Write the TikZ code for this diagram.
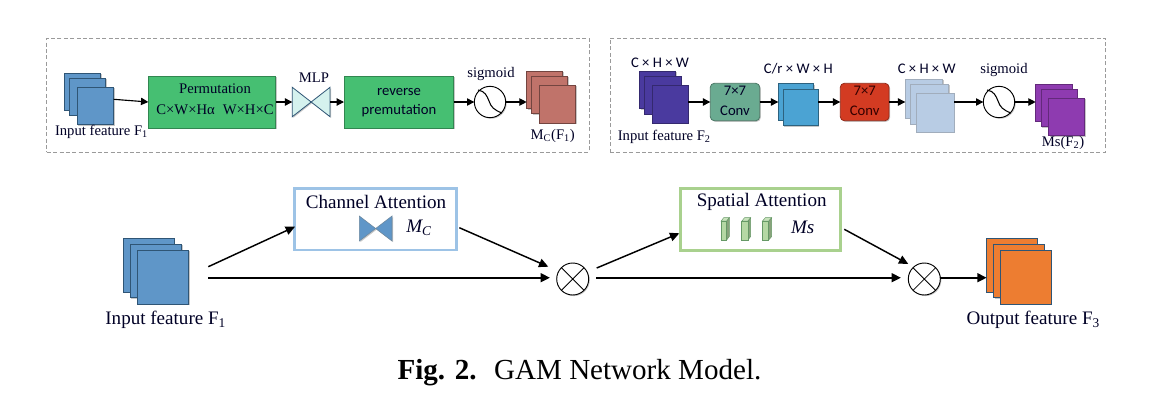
\documentclass[tikz,border=0pt]{standalone}
\usepackage{fontspec}
\setmainfont{Liberation Serif}
\newfontfamily\calfont{Carlito}
\usetikzlibrary{shadows,arrows.meta}
\definecolor{cOut}{HTML}{2F5575}
\definecolor{cBlue}{HTML}{5F96C8}
\definecolor{cGreen}{HTML}{46BF72}
\definecolor{cMint}{HTML}{D5F2EE}
\definecolor{cTeal}{HTML}{6AAB91}
\definecolor{cRed}{HTML}{D33B22}
\definecolor{cIndigo}{HTML}{4A3A9F}
\definecolor{cCyan}{HTML}{4BA3D3}
\definecolor{cPale}{HTML}{B8CCE4}
\definecolor{cViolet}{HTML}{8E3BB0}
\definecolor{cBrick}{HTML}{C0736A}
\definecolor{cOrange}{HTML}{ED7D31}
\definecolor{cDash}{HTML}{9A9A9A}
\definecolor{cFrameB}{HTML}{9DC3E6}
\definecolor{cFrameG}{HTML}{A9D18E}
\definecolor{cCube}{HTML}{B5D8A4}
\newcommand{\bx}[6]{%
  \pgfmathsetmacro\bxcx{(#3+#5)/2}%
  \pgfmathsetmacro\bxcy{(#4+#6)/2}%
  \pgfmathsetmacro\bxw{(#5-#3)*0.75}%
  \pgfmathsetmacro\bxh{(#6-#4)*0.75}%
  \node[boxbase,#1,minimum width=\bxw pt,minimum height=\bxh pt] (#2) at (\bxcx,\bxcy) {};}
\newcommand{\sigcurve}[1]{%
  \draw[line width=.8pt,black,shift={(#1)}] (-12,-12) .. controls (-5,-11) and (-3,-6) .. (-1,-1) .. controls (1,5) and (4,8) .. (12,11);}
\newcommand{\cube}[5]{% name x1 x2 y1 y2
  \pgfmathsetmacro\cubef{#2+0.68*(#3-#2)}%
  \fill[cCube!75!white,draw=gray!80!green,line width=.35pt] (#2,#4+3.5) -- (\cubef,#4+3.5) -- (#3,#4) -- (#2+0.32*#3-0.32*#2,#4) -- cycle;
  \fill[cCube!75!black,draw=gray!80!green,line width=.35pt] (\cubef,#4+3.5) -- (#3,#4) -- (#3,#5-3.5) -- (\cubef,#5) -- cycle;
  \node[boxbase,draw=gray!80!green,line width=.35pt,fill=cCube,minimum width={(\cubef-#2)*0.75pt},minimum height={(#5-#4-3.5)*0.75pt},anchor=south west] (#1) at (#2,#5) {};}
\tikzset{
  x=.75pt,y=-.75pt,
  boxbase/.style={rectangle,inner sep=0pt,outer sep=0pt},
  softshadow/.style={drop shadow={shadow xshift=.8pt,shadow yshift=-.8pt,opacity=.22,fill=black}},
  stackbox/.style={draw=cOut,line width=.7pt,softshadow},
  procbox/.style={draw=cGreen!70!black,line width=.4pt,fill=cGreen,softshadow},
  convbox/.style={rectangle,rounded corners=3pt,inner sep=0pt,outer sep=0pt,line width=.6pt,softshadow},
  panel/.style={draw=cDash,dashed,line width=.7pt,dash pattern=on 3pt off 1.8pt},
  smallarrow/.style={-{Triangle[length=5.5pt,width=5.5pt]},line width=.85pt,black},
  bigarrow/.style={-{Triangle[length=7pt,width=6.5pt]},line width=1.1pt,black},
  longarrow/.style={-{Triangle[length=7pt,width=6.5pt]},line width=1.7pt,black},
  opcircle/.style={circle,draw=black,line width=.7pt,fill=white,inner sep=0pt,outer sep=0pt,softshadow},
  lab/.style={inner sep=0pt,outer sep=0pt,text=black!85!blue,align=center},
  seriftop/.style={lab,font=\fontsize{11pt}{13pt}\selectfont},
  sanstop/.style={lab,font=\calfont\fontsize{11pt}{13pt}\selectfont},
  serifmain/.style={lab,font=\fontsize{14.3pt}{16pt}\selectfont},
}
\begin{document}
\begin{tikzpicture}
\useasboundingbox[fill=white] (0,0) rectangle (1152,411);
% panels
\bx{panel}{panelA}{46.7}{38}{589}{152}
\bx{panel}{panelB}{610}{38}{1105.6}{152}
% ---- panel A
\bx{stackbox,fill=cBlue}{aA}{64}{73}{100.7}{110}
\bx{stackbox,fill=cBlue}{aB}{69.3}{78}{105.7}{115}
\bx{stackbox,fill=cBlue}{aC}{77.3}{87}{113.7}{124.7}
\coordinate (aOut) at (113.7,99.3);
\node[seriftop] (aLab) at (101.5,131.5) {Input feature F\textsubscript{1}};
\bx{procbox}{perm}{148.3}{76}{275.7}{128}
\node[seriftop] (permA) at (215,89) {Permutation};
\node[seriftop] (permB) at (215,110) {C×W×Hα\hspace{.55em}W×H×C};
\bx{}{mlp}{292.3}{87.3}{330}{116.7}
\draw[draw=cOut,line width=.6pt,fill=cMint,line join=miter,softshadow] (mlp.north west) -- (mlp.south east) -- (mlp.north east) -- (mlp.south west) -- cycle;
\node[seriftop] (mlpLab) at (314,78) {MLP};
\bx{procbox}{rev}{344}{76}{453.7}{128}
\node[sanstop] (revA) at (399,91.5) {reverse};
\node[sanstop] (revB) at (399,110.5) {premutation};
\node[opcircle,minimum size=23.5pt] (sigA) at (490,102) {};
\sigcurve{sigA}
\node[seriftop] (sigALab) at (491,74) {sigmoid};
\bx{stackbox,fill=cBrick,draw=cBrick!60!black}{bA}{526.7}{71.3}{562.7}{108.7}
\bx{stackbox,fill=cBrick,draw=cBrick!60!black}{bB}{531.7}{76.3}{567.7}{113.5}
\bx{stackbox,fill=cBrick,draw=cBrick!60!black}{bC}{539.3}{85.3}{575.7}{123.3}
\coordinate (bIn) at (526.7,102);
\node[seriftop] (bLab) at (552.7,135.7) {M\textsubscript{C}(F\textsubscript{1})};
\draw[smallarrow] (aOut) -- (perm.west);
\draw[smallarrow] (perm.east |- mlp.west) -- (mlp.west);
\draw[smallarrow] (mlp.east) -- (rev.west);
\draw[smallarrow] (rev.east) -- (sigA.west);
\draw[smallarrow] (sigA.east) -- (bIn);
% ---- panel B
\bx{stackbox,fill=cIndigo,draw=cIndigo!70!black}{cA}{639.7}{71.3}{675.7}{108.7}
\bx{stackbox,fill=cIndigo,draw=cIndigo!70!black}{cB}{644.7}{76.3}{681}{114}
\bx{stackbox,fill=cIndigo,draw=cIndigo!70!black}{cC}{652.3}{85.3}{688.3}{123.3}
\coordinate (cOut) at (688.3,102);
\node[sanstop] (cTop) at (660,62.3) {C × H × W};
\node[seriftop] (cLab) at (664.3,136.7) {Input feature F\textsubscript{2}};
\bx{convbox,fill=cTeal,draw=cTeal!70!black}{convA}{710.3}{83.3}{759.7}{120.7}
\node[sanstop] (convAa) at (735,91) {7×7};
\node[sanstop] (convAb) at (735,110.7) {Conv};
\bx{stackbox,fill=cCyan,draw=cCyan!60!black}{dA}{778.3}{83.7}{813.7}{120.3}
\bx{stackbox,fill=cCyan,draw=cCyan!60!black}{dB}{783.3}{89.3}{818.3}{125.7}
\coordinate (dIn) at (778.3,102);
\coordinate (dOut) at (818.3,102);
\node[sanstop] (dTop) at (798.3,68.3) {C/r × W × H};
\bx{convbox,fill=cRed,draw=cRed!70!black}{convB}{840.3}{83.3}{889}{120.7}
\node[sanstop,text=black!80!red] (convBa) at (864.7,91) {7×7};
\node[sanstop,text=black!80!red] (convBb) at (864.7,110.7) {Conv};
\bx{stackbox,fill=cPale,draw=cPale!60!gray}{eA}{905.3}{79.3}{942.7}{118.3}
\bx{stackbox,fill=cPale,draw=cPale!60!gray}{eB}{910.3}{84.3}{948.7}{124.3}
\bx{stackbox,fill=cPale,draw=cPale!60!gray}{eC}{916.3}{93.3}{954.3}{132.3}
\coordinate (eIn) at (905.3,102);
\coordinate (eOut) at (954.3,102);
\node[sanstop] (eTop) at (926.7,68.3) {C × H × W};
\node[opcircle,minimum size=23.5pt] (sigB) at (999,102) {};
\sigcurve{sigB}
\node[seriftop] (sigBLab) at (1004,70) {sigmoid};
\bx{stackbox,fill=cViolet,draw=cViolet!70!black}{fA}{1035.7}{84.3}{1072}{121.3}
\bx{stackbox,fill=cViolet,draw=cViolet!70!black}{fB}{1041}{89.3}{1077.3}{126.7}
\bx{stackbox,fill=cViolet,draw=cViolet!70!black}{fC}{1048.7}{98.3}{1084.7}{135.7}
\coordinate (fIn) at (1035.7,102);
\node[seriftop] (fLab) at (1063,142.7) {Ms(F\textsubscript{2})};
\draw[smallarrow] (cOut) -- (convA.west);
\draw[smallarrow] (convA.east) -- (dIn);
\draw[smallarrow] (dOut) -- (convB.west);
\draw[smallarrow] (convB.east) -- (eIn);
\draw[smallarrow] (eOut) -- (sigB.west);
\draw[smallarrow] (sigB.east) -- (fIn);
% ---- main row
\bx{stackbox,fill=cBlue}{gA}{123.3}{238.3}{174.3}{292}
\bx{stackbox,fill=cBlue}{gB}{130.3}{244.3}{181.7}{297.7}
\bx{stackbox,fill=cBlue}{gC}{137.3}{250.3}{188.7}{304}
\node[serifmain] (gLab) at (165.7,319.5) {Input feature F\textsubscript{1}};
\coordinate (gUp) at (208.3,266.7);
\coordinate (gSt) at (208.3,277.7);
\bx{draw=cFrameB,line width=2pt,fill=white,softshadow}{chan}{294.3}{188.3}{456.3}{250}
\node[serifmain] (chanLab) at (376,201.5) {Channel Attention};
\bx{}{chanTie}{359.3}{216}{392}{241}
\draw[draw=cOut!70!white,line width=.4pt,fill=cBlue,softshadow] (chanTie.north west) -- (chanTie.south east) -- (chanTie.north east) -- (chanTie.south west) -- cycle;
\node[serifmain] (chanM) at (419,228) {\textit{M\textsubscript{C}}};
\coordinate (chanIn) at (295,226.7);
\coordinate (chanOut) at (459.3,227.7);
\node[opcircle,minimum size=24pt] (otA) at (572.7,279) {};
\draw[line width=.6pt] (otA.45) -- (otA.225) (otA.135) -- (otA.315);
\coordinate (otAa) at (548.3,266.7);
\coordinate (otAb) at (550,277.7);
\coordinate (otAu) at (596.7,268);
\coordinate (otAs) at (596,277.7);
\bx{draw=cFrameG,line width=2pt,fill=white,softshadow}{spat}{680.7}{188.3}{840.7}{250.3}
\node[serifmain] (spatLab) at (761.7,201.5) {Spatial Attention};
\cube{cuA}{721}{729.3}{217.7}{240}
\cube{cuB}{741.7}{750.7}{217.7}{240}
\cube{cuC}{762.3}{771.7}{217.7}{240}
\node[serifmain] (spatM) at (802.7,227.3) {\textit{Ms}};
\coordinate (spatIn) at (679.3,233.3);
\coordinate (spatOut) at (844.3,229.3);
\node[opcircle,minimum size=24pt] (otB) at (924.3,279) {};
\draw[line width=.6pt] (otB.45) -- (otB.225) (otB.135) -- (otB.315);
\coordinate (otBa) at (908.3,264);
\coordinate (otBb) at (901,277.7);
\bx{stackbox,fill=cOrange}{hA}{986.7}{238.3}{1037}{292}
\bx{stackbox,fill=cOrange}{hB}{993.7}{244.3}{1044}{297.7}
\bx{stackbox,fill=cOrange}{hC}{1000.7}{250.3}{1051.3}{304}
\coordinate (hIn) at (986.7,277.7);
\node[serifmain] (hLab) at (1033.3,319.5) {Output feature F\textsubscript{3}};
\draw[bigarrow] (gUp) -- (chanIn);
\draw[bigarrow] (chanOut) -- (otAa);
\draw[longarrow] (gSt) -- (otAb);
\draw[bigarrow] (otAu) -- (spatIn);
\draw[bigarrow] (spatOut) -- (otBa);
\draw[longarrow] (otAs) -- (otBb);
\draw[longarrow] (otB.east |- hIn) -- (hIn);
% caption
\node[lab,text=black,font=\fontsize{21.8pt}{26pt}\selectfont] (cap) at (579.5,373) {\textbf{Fig. 2.}\hspace{.6em}GAM Network Model.};
\end{tikzpicture}
\end{document}
